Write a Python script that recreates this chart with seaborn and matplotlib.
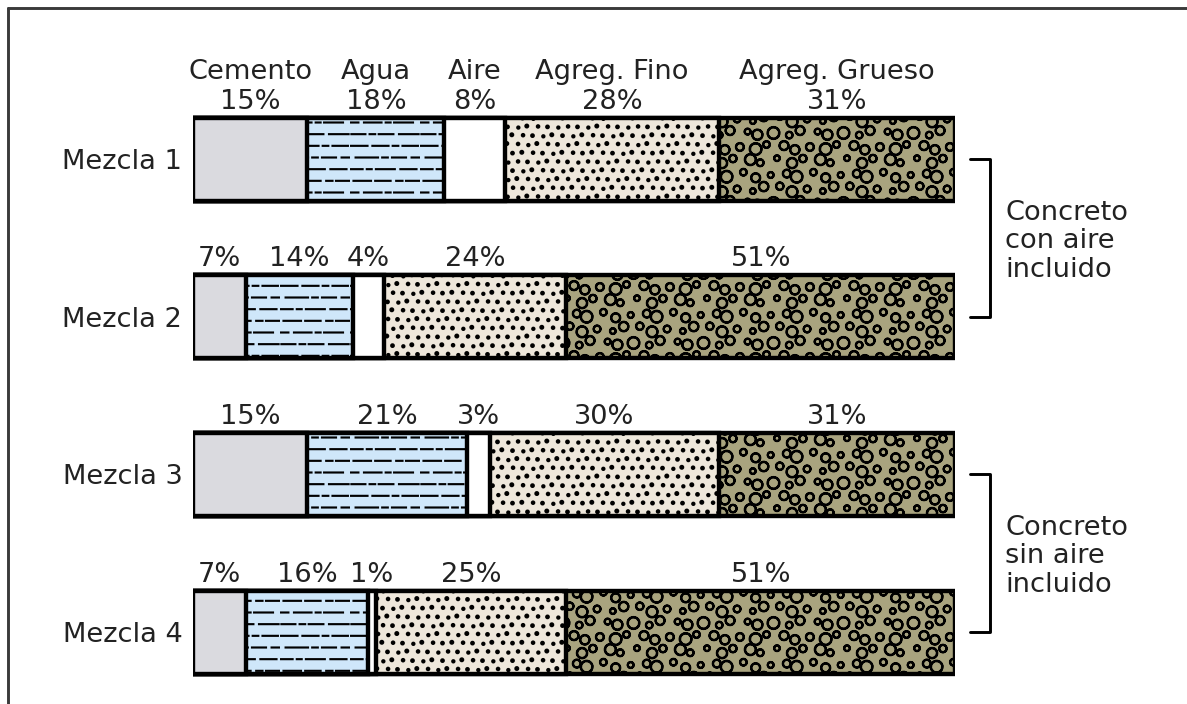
import numpy as np
import pandas as pd
import matplotlib.pyplot as plt
import matplotlib.hatch as mhatch
from matplotlib.path import Path
from matplotlib.lines import Line2D
import seaborn as sns

# datos
mezclas = ['Mezcla 1', 'Mezcla 2', 'Mezcla 3', 'Mezcla 4']
componentes = ['Cemento', 'Agua', 'Aire', 'Agreg. Fino', 'Agreg. Grueso']
cemento = [15, 7, 15, 7]
agua = [18, 14, 21, 16]
aire = [8, 4, 3, 1]
agreg_fino = [28, 24, 30, 25]
agreg_grueso = [31, 51, 31, 51]
grupos = ['Concreto\ncon aire\nincluido', 'Concreto\nsin aire\nincluido']

colores = ['#dadadf', '#cfe7fa', '#ffffff', '#eee7db', '#a9a47f']
tramas = ['', '-', '', '.', 'O']

DPI = 70  # la trama se repite cada 70 px

# --- tramas propias: guiones (agua), puntos (fino), circulos (grueso) ---
CIRCULO = Path.unit_circle()
DESPLAZ = [(dx, dy) for dx in (-1, 0, 1) for dy in (-1, 0, 1)]


class TramaAgua(mhatch.HatchPatternBase):
    guiones = [
        [(0.02, 0.22), (0.28, 0.36), (0.41, 0.62), (0.70, 0.98)],
        [(0.00, 0.12), (0.20, 0.45), (0.51, 0.58), (0.63, 0.90)],
        [(0.05, 0.30), (0.36, 0.58), (0.66, 0.75), (0.80, 1.00)],
        [(0.00, 0.18), (0.24, 0.31), (0.37, 0.64), (0.72, 0.95)],
        [(0.08, 0.40), (0.46, 0.54), (0.60, 0.80), (0.88, 1.00)],
        [(0.00, 0.25), (0.32, 0.55), (0.61, 0.69), (0.75, 0.97)],
    ]

    def __init__(self, hatch, density):
        n = sum(len(f) for f in self.guiones)
        self.num_vertices = 2 * n if hatch.count('-') else 0

    def set_vertices_and_codes(self, vertices, codes):
        k = 0
        for i, fila in enumerate(self.guiones):
            y = (i + 0.5) / len(self.guiones)
            for a, b in fila:
                vertices[k] = (a, y)
                vertices[k + 1] = (b, y)
                codes[k] = Path.MOVETO
                codes[k + 1] = Path.LINETO
                k += 2


class TramaFormas(mhatch.HatchPatternBase):
    letra = ''
    filas, cols, corrimiento = 4, 4, 0.5
    radios = [2.0]
    saltos = [(0.0, 0.0)]
    anillo = False

    def __init__(self, hatch, density):
        self.centros = []
        for i in range(self.filas):
            for j in range(self.cols):
                dx, dy = self.saltos[len(self.centros) % len(self.saltos)]
                x = ((j + 0.25 + self.corrimiento * i) / self.cols + dx) % 1.0
                y = (i + 0.5) / self.filas + dy
                self.centros.append((x, y))
        nv = len(CIRCULO.vertices) * (2 if self.anillo else 1)
        activo = hatch.count(self.letra) > 0
        self.num_vertices = nv * len(self.centros) * len(DESPLAZ) if activo else 0

    def set_vertices_and_codes(self, vertices, codes):
        v0, c0 = CIRCULO.vertices, CIRCULO.codes
        partes_v, partes_c = [], []
        for n, (x, y) in enumerate(self.centros):
            r = self.radios[n % len(self.radios)] / DPI
            forma = v0 * r
            cod = c0
            if self.anillo:
                forma = np.concatenate([forma, forma[::-1] * 0.92])
                cod = np.concatenate([c0, c0])
            for dx, dy in DESPLAZ:
                partes_v.append(forma + (x + dx, y + dy))
                partes_c.append(cod)
        vertices[:] = np.concatenate(partes_v)
        codes[:] = np.concatenate(partes_c)


class TramaPuntos(TramaFormas):
    letra = '.'
    filas, cols, corrimiento = 8, 7, 0.5
    radios = [1.3, 1.1, 1.4, 1.2]
    saltos = [(0.0, 0.0), (0.012, -0.01), (-0.01, 0.012), (0.008, 0.006)]


class TramaGrava(TramaFormas):
    letra = 'O'
    filas, cols, corrimiento = 5, 5, 0.4
    radios = [6.0, 3.4, 4.6, 3.0, 5.2, 3.8, 5.6, 3.5, 2.9, 4.8, 4.0]
    saltos = [(0.0, 0.0), (0.025, -0.03), (-0.02, 0.035), (0.03, 0.02),
              (-0.03, -0.025), (0.01, 0.04), (-0.015, -0.04)]
    anillo = True


mhatch._hatch_types[mhatch._hatch_types.index(mhatch.HorizontalHatch)] = TramaAgua
mhatch._hatch_types[mhatch._hatch_types.index(mhatch.SmallFilledCircles)] = TramaPuntos
mhatch._hatch_types[mhatch._hatch_types.index(mhatch.LargeCircles)] = TramaGrava

sns.set_theme(style='white')
plt.rcParams['font.family'] = ['DejaVu Sans']
plt.rcParams['hatch.color'] = 'black'
plt.rcParams['hatch.linewidth'] = 2.2

# tabla larga con inicio / fin de cada tramo
valores = np.array([cemento, agua, aire, agreg_fino, agreg_grueso])
fin = valores.cumsum(axis=0)
inicio = fin - valores
filas = []
for j, comp in enumerate(componentes):
    for i, m in enumerate(mezclas):
        filas.append({'mezcla': m, 'componente': comp, 'valor': valores[j, i],
                      'inicio': inicio[j, i], 'fin': fin[j, i]})
df = pd.DataFrame(filas)

fig = plt.figure(figsize=(1187 / DPI, 704 / DPI), dpi=DPI)
ax = fig.add_axes([193 / 1187, 1 - 702.9 / 704, 762 / 1187, 622.2 / 704])

ancho = 0.527
# barras apiladas: se dibuja del total hacia atras
for comp, color, trama in reversed(list(zip(componentes, colores, tramas))):
    sub = df[df['componente'] == comp]
    sns.barplot(data=sub, x='fin', y='mezcla', order=mezclas, color=color,
                saturation=1, edgecolor='black', linewidth=4.5, width=ancho,
                hatch=trama, errorbar=None, ax=ax)

ax.set_xlim(0, 100)
ax.set_ylim(3.45, -0.5)
ax.set_xlabel('')
ax.set_ylabel('')
ax.set_xticks([])
ax.tick_params(axis='y', length=0, pad=11, labelsize=28, labelcolor='#222222')
sns.despine(ax=ax, left=True, bottom=True)

# etiquetas de porcentaje
for i, m in enumerate(mezclas):
    sub = df[df['mezcla'] == m]
    for _, r in sub.iterrows():
        txt = f"{r['valor']}%"
        if i == 0:
            txt = f"{r['componente']}\n{txt}"
        ax.annotate(txt, xy=((r['inicio'] + r['fin']) / 2, i - ancho / 2),
                    xytext=(0, 9), textcoords='offset pixels', ha='center',
                    va='baseline', fontsize=28, color='#222222',
                    linespacing=1.22, annotation_clip=False)

# llaves de grupo a la derecha
for k, texto in enumerate(grupos):
    y0, y1 = 2 * k, 2 * k + 1
    ax.add_line(Line2D([102.0, 104.6, 104.6, 102.0], [y0, y0, y1, y1],
                       color='black', lw=3, clip_on=False))
    ax.text(106.6, (y0 + y1) / 2 + 0.02, texto, ha='left', va='center',
            fontsize=28, color='#222222', linespacing=1.12, clip_on=False)

# marco de la imagen
fig.add_artist(Line2D([8 / 1187, 8 / 1187], [0, 1 - 8 / 704],
                      transform=fig.transFigure, color='#3a3a3a', lw=3))
fig.add_artist(Line2D([8 / 1187, 1], [1 - 8 / 704, 1 - 8 / 704],
                      transform=fig.transFigure, color='#3a3a3a', lw=3))

fig.savefig('out.png', dpi=DPI)
